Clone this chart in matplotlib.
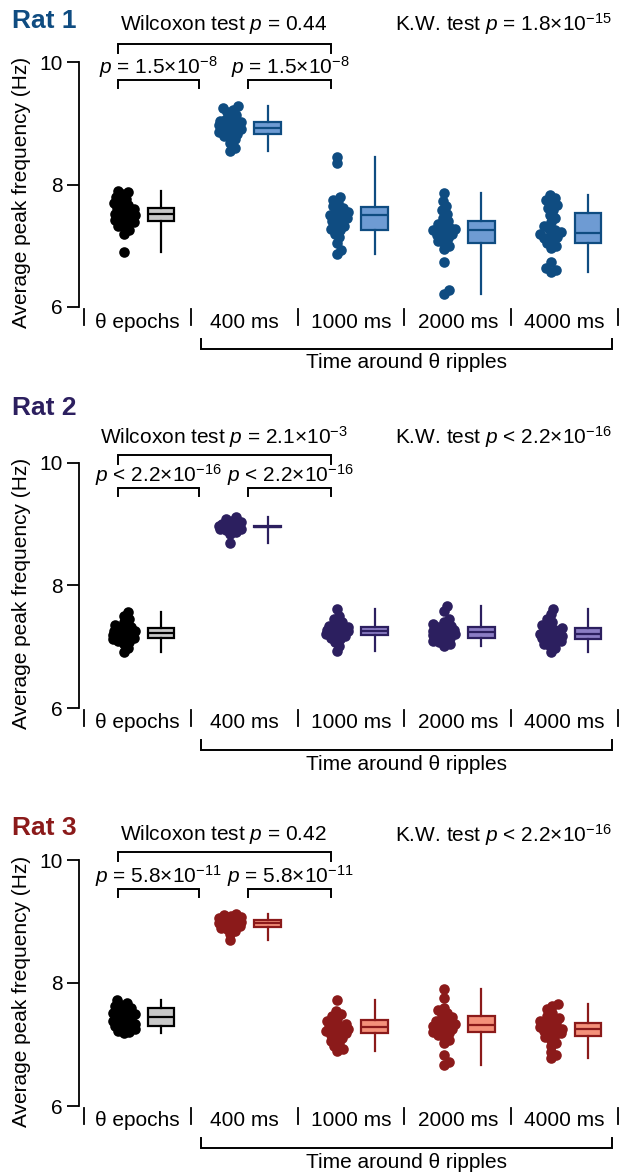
import numpy as np
import matplotlib

matplotlib.use("Agg")
import matplotlib.pyplot as plt  # noqa: E402
from matplotlib.transforms import blended_transform_factory  # noqa: E402

plt.rcParams["font.family"] = ["Liberation Sans", "DejaVu Sans"]
plt.rcParams["mathtext.fontset"] = "custom"
plt.rcParams["mathtext.rm"] = "Liberation Sans"
plt.rcParams["mathtext.it"] = "Liberation Sans:italic"

W, H = 620, 1173

CATEGORIES = ["θ epochs", "400 ms", "1000 ms", "2000 ms", "4000 ms"]
RATS = ["Rat 1", "Rat 2", "Rat 3"]

WILCOXON = [r"Wilcoxon test $\it{p}$ = 0.44",
            r"Wilcoxon test $\it{p}$ = 2.1×10$^{-3}$",
            r"Wilcoxon test $\it{p}$ = 0.42"]
KW = [r"K.W. test $\it{p}$ = 1.8×10$^{-15}$",
      r"K.W. test $\it{p}$ < 2.2×10$^{-16}$",
      r"K.W. test $\it{p}$ < 2.2×10$^{-16}$"]
PAIR_P = [r"$\it{p}$ = 1.5×10$^{-8}$",
          r"$\it{p}$ < 2.2×10$^{-16}$",
          r"$\it{p}$ = 5.8×10$^{-11}$"]

# per-recording average peak frequency (Hz), one list per condition
RAT1 = [
    [6.90, 7.20, 7.25, 7.30, 7.33, 7.36, 7.38, 7.40, 7.42, 7.44, 7.46, 7.48, 7.50, 7.52,
     7.53, 7.55, 7.57, 7.60, 7.62, 7.64, 7.66, 7.70, 7.73, 7.76, 7.80, 7.84, 7.87, 7.90],
    [8.55, 8.60, 8.68, 8.74, 8.78, 8.80, 8.83, 8.85, 8.87, 8.88, 8.90, 8.91, 8.92, 8.93,
     8.94, 8.95, 8.96, 8.97, 8.98, 9.00, 9.01, 9.02, 9.04, 9.06, 9.10, 9.14, 9.18, 9.22,
     9.25, 9.28],
    [6.86, 6.93, 7.05, 7.14, 7.20, 7.25, 7.28, 7.32, 7.36, 7.40, 7.43, 7.46, 7.48, 7.50,
     7.52, 7.55, 7.58, 7.62, 7.65, 7.70, 7.75, 7.79, 8.35, 8.45],
    [6.22, 6.28, 6.74, 6.95, 7.00, 7.05, 7.08, 7.12, 7.15, 7.18, 7.20, 7.22, 7.24, 7.25,
     7.27, 7.30, 7.33, 7.36, 7.40, 7.45, 7.52, 7.58, 7.65, 7.73, 7.86],
    [6.57, 6.60, 6.63, 6.74, 6.96, 7.00, 7.04, 7.08, 7.12, 7.15, 7.18, 7.20, 7.22, 7.25,
     7.28, 7.32, 7.38, 7.45, 7.50, 7.58, 7.62, 7.66, 7.70, 7.75, 7.78, 7.83],
]
RAT2 = [
    [6.91, 6.98, 7.05, 7.08, 7.10, 7.12, 7.14, 7.15, 7.16, 7.17, 7.18, 7.19, 7.20, 7.21,
     7.22, 7.23, 7.24, 7.25, 7.26, 7.28, 7.30, 7.33, 7.36, 7.40, 7.45, 7.50, 7.56],
    [8.69, 8.84, 8.88, 8.90, 8.92, 8.93, 8.94, 8.95, 8.95, 8.96, 8.96, 8.97, 8.97, 8.98,
     8.99, 9.00, 9.01, 9.03, 9.05, 9.08, 9.12],
    [6.93, 7.02, 7.08, 7.12, 7.15, 7.17, 7.19, 7.20, 7.22, 7.24, 7.25, 7.26, 7.27, 7.28,
     7.30, 7.31, 7.32, 7.34, 7.36, 7.40, 7.45, 7.50, 7.61],
    [7.01, 7.04, 7.07, 7.10, 7.12, 7.15, 7.17, 7.19, 7.20, 7.22, 7.23, 7.24, 7.25, 7.26,
     7.28, 7.30, 7.32, 7.34, 7.37, 7.40, 7.45, 7.58, 7.66],
    [6.92, 6.98, 7.02, 7.05, 7.08, 7.10, 7.12, 7.14, 7.15, 7.17, 7.18, 7.20, 7.21, 7.22,
     7.24, 7.26, 7.28, 7.30, 7.33, 7.36, 7.40, 7.45, 7.53, 7.62],
]
RAT3 = [
    [7.18, 7.20, 7.22, 7.25, 7.28, 7.30, 7.32, 7.34, 7.36, 7.38, 7.40, 7.42, 7.44, 7.46,
     7.48, 7.50, 7.52, 7.55, 7.58, 7.60, 7.62, 7.65, 7.68, 7.72],
    [8.70, 8.80, 8.85, 8.88, 8.90, 8.92, 8.93, 8.95, 8.96, 8.97, 8.98, 8.99, 9.00, 9.01,
     9.02, 9.03, 9.05, 9.07, 9.09, 9.11, 9.13],
    [6.89, 6.93, 6.97, 7.02, 7.06, 7.10, 7.13, 7.16, 7.18, 7.20, 7.22, 7.24, 7.26, 7.28,
     7.29, 7.31, 7.33, 7.35, 7.38, 7.42, 7.46, 7.50, 7.55, 7.73],
    [6.67, 6.72, 6.83, 7.02, 7.07, 7.12, 7.15, 7.18, 7.21, 7.23, 7.26, 7.28, 7.30, 7.31,
     7.33, 7.36, 7.38, 7.42, 7.45, 7.48, 7.52, 7.56, 7.60, 7.76, 7.91],
    [6.78, 6.83, 6.88, 6.98, 7.03, 7.08, 7.12, 7.15, 7.18, 7.20, 7.22, 7.24, 7.26, 7.28,
     7.30, 7.32, 7.35, 7.38, 7.40, 7.43, 7.47, 7.52, 7.58, 7.62, 7.66],
]
DATA = [RAT1, RAT2, RAT3]

# box quartiles per condition (whiskers run to min / max of the points)
Q1 = [[7.40, 8.83, 7.26, 7.05, 7.04],
      [7.15, 8.95, 7.19, 7.15, 7.12],
      [7.30, 8.91, 7.18, 7.21, 7.14]]
MED = [[7.52, 8.93, 7.51, 7.25, 7.21],
       [7.22, 8.96, 7.26, 7.24, 7.20],
       [7.44, 8.97, 7.29, 7.31, 7.26]]
Q3 = [[7.62, 9.02, 7.64, 7.41, 7.53],
      [7.30, 8.97, 7.32, 7.32, 7.30],
      [7.59, 9.02, 7.40, 7.47, 7.35]]

DARK = ["#0f4c81", "#2c1f5f", "#8b1a1a"]
LIGHT = ["#6e9bd3", "#8b7dc4", "#f4917a"]

# pixel layout of each panel (y measured from the top of the figure)
Y_TOP = [62, 463, 860]     # y = 10 Hz
Y_BOT = [307, 708, 1106]   # y = 6 Hz
Y_TITLE = [21, 408, 828]
Y_WILC = [24, 437, 835]
Y_BIG = [44, 455, 852]
Y_PTXT = [67, 475, 876]
Y_SMALL = [80, 488, 889]

FS = 15
DOT_OFF, BOX_OFF = -0.13, 0.22


def fy(py):
    return 1 - py / H


def swarm(ypx, d, cap):
    """Horizontal offsets (px): dots kept d apart where possible, never wider than cap."""
    xs = np.zeros(len(ypx))
    placed = []
    grid = np.linspace(-cap, cap, 41)
    for i in np.argsort(ypx):
        y = ypx[i]
        cands = [0.0]
        for px, py in placed:
            dy = y - py
            if abs(dy) < d:
                dx = np.sqrt(d * d - dy * dy)
                cands += [px + dx, px - dx]
        cands = [c for c in cands if abs(c) <= cap]
        cands.sort(key=abs)
        chosen = None
        for c in cands:
            if all((c - px) ** 2 + (y - py) ** 2 >= d * d - 1e-6 for px, py in placed):
                chosen = c
                break
        if chosen is None:
            # crowded: take the least-overlapping spot inside the band
            best = -1
            for c in grid:
                gap = min((c - px) ** 2 + (y - py) ** 2 for px, py in placed)
                if gap > best + 1e-9:
                    best, chosen = gap, c
        xs[i] = chosen
        placed.append((chosen, y))
    return xs


def bracket(ax, fig, x0, x1, ytop, ybot, lw=1.4):
    tr = blended_transform_factory(ax.transData, fig.transFigure)
    ax.plot([x0, x0, x1, x1], [fy(ybot), fy(ytop), fy(ytop), fy(ybot)],
            color="black", lw=lw, transform=tr, clip_on=False,
            solid_joinstyle="miter")


fig = plt.figure(figsize=(W / 100, H / 100), dpi=100)

for r in range(3):
    x_left, x_right = 79, 618
    ax = fig.add_axes([x_left / W, fy(Y_BOT[r]), (x_right - x_left) / W,
                       (Y_BOT[r] - Y_TOP[r]) / H])
    ax.set_xlim(-0.547, 4.5)
    ax.set_ylim(6, 10)
    for s in ("top", "right", "bottom"):
        ax.spines[s].set_visible(False)
    ax.spines["left"].set_linewidth(1.3)
    ax.set_yticks([6, 8, 10])
    ax.tick_params(axis="y", length=9, width=1.3, labelsize=FS, pad=3)
    ax.set_xticks([])

    # dots, packed as an overlapping swarm in pixel space
    px_per_x = ax.transData.transform((1, 0))[0] - ax.transData.transform((0, 0))[0]
    for i, vals in enumerate(DATA[r]):
        vals = np.asarray(vals)
        ypx = ax.transData.transform(np.column_stack([np.zeros_like(vals), vals]))[:, 1]
        off = swarm(ypx, 6.0, 11.0)
        col = "black" if i == 0 else DARK[r]
        ax.scatter(i + DOT_OFF + off / px_per_x, vals, s=58, color=col,
                   linewidths=0, zorder=3, clip_on=False)

    # boxes
    for i, vals in enumerate(DATA[r]):
        edge = "black" if i == 0 else DARK[r]
        face = "#c8c8c8" if i == 0 else LIGHT[r]
        stats = [dict(med=MED[r][i], q1=Q1[r][i], q3=Q3[r][i],
                      whislo=min(vals), whishi=max(vals), fliers=[])]
        ax.bxp(stats, positions=[i + BOX_OFF], widths=0.25, patch_artist=True,
               showcaps=False, showfliers=False,
               boxprops=dict(facecolor=face, edgecolor=edge, linewidth=1.6),
               medianprops=dict(color=edge, linewidth=1.6),
               whiskerprops=dict(color=edge, linewidth=1.6))
    ax.set_xlim(-0.547, 4.5)
    ax.set_xticks([])

    tr = blended_transform_factory(ax.transData, fig.transFigure)
    yb = Y_BOT[r]
    # category strip under the axis
    for k in range(6):
        ax.plot([k - 0.5, k - 0.5], [fy(yb + 2), fy(yb + 18)], color="black",
                lw=1.3, transform=tr, clip_on=False)
    for k, lab in enumerate(CATEGORIES):
        ax.text(k, fy(yb + 15), lab, transform=tr, ha="center", va="center",
                fontsize=FS)
    bracket(ax, fig, 0.60, 4.44, yb + 42, yb + 32)
    ax.text(2.52, fy(yb + 56), "Time around θ ripples", transform=tr,
            ha="center", va="center", fontsize=FS)

    # statistics
    bracket(ax, fig, -0.18, 1.81, Y_BIG[r], Y_BIG[r] + 9)
    bracket(ax, fig, -0.18, 0.575, Y_SMALL[r], Y_SMALL[r] + 8)
    bracket(ax, fig, 1.04, 1.81, Y_SMALL[r], Y_SMALL[r] + 8)
    ax.text(0.2, fy(Y_PTXT[r]), PAIR_P[r], transform=tr, ha="center",
            va="center", fontsize=FS)
    ax.text(1.43, fy(Y_PTXT[r]), PAIR_P[r], transform=tr, ha="center",
            va="center", fontsize=FS)
    ax.text(0.81, fy(Y_WILC[r]), WILCOXON[r], transform=tr, ha="center",
            va="center", fontsize=FS)
    fig.text(612 / W, fy(Y_WILC[r]), KW[r], ha="right", va="center", fontsize=FS)

    fig.text(12 / W, fy(Y_TITLE[r]), RATS[r], ha="left", va="center",
             fontsize=19, fontweight="bold", color=DARK[r])
    fig.text(22 / W, fy((Y_TOP[r] + Y_BOT[r]) / 2 + 8),
             "Average peak frequency (Hz)", rotation=90, ha="center",
             va="center", fontsize=FS)

fig.savefig("out.png", dpi=100)
